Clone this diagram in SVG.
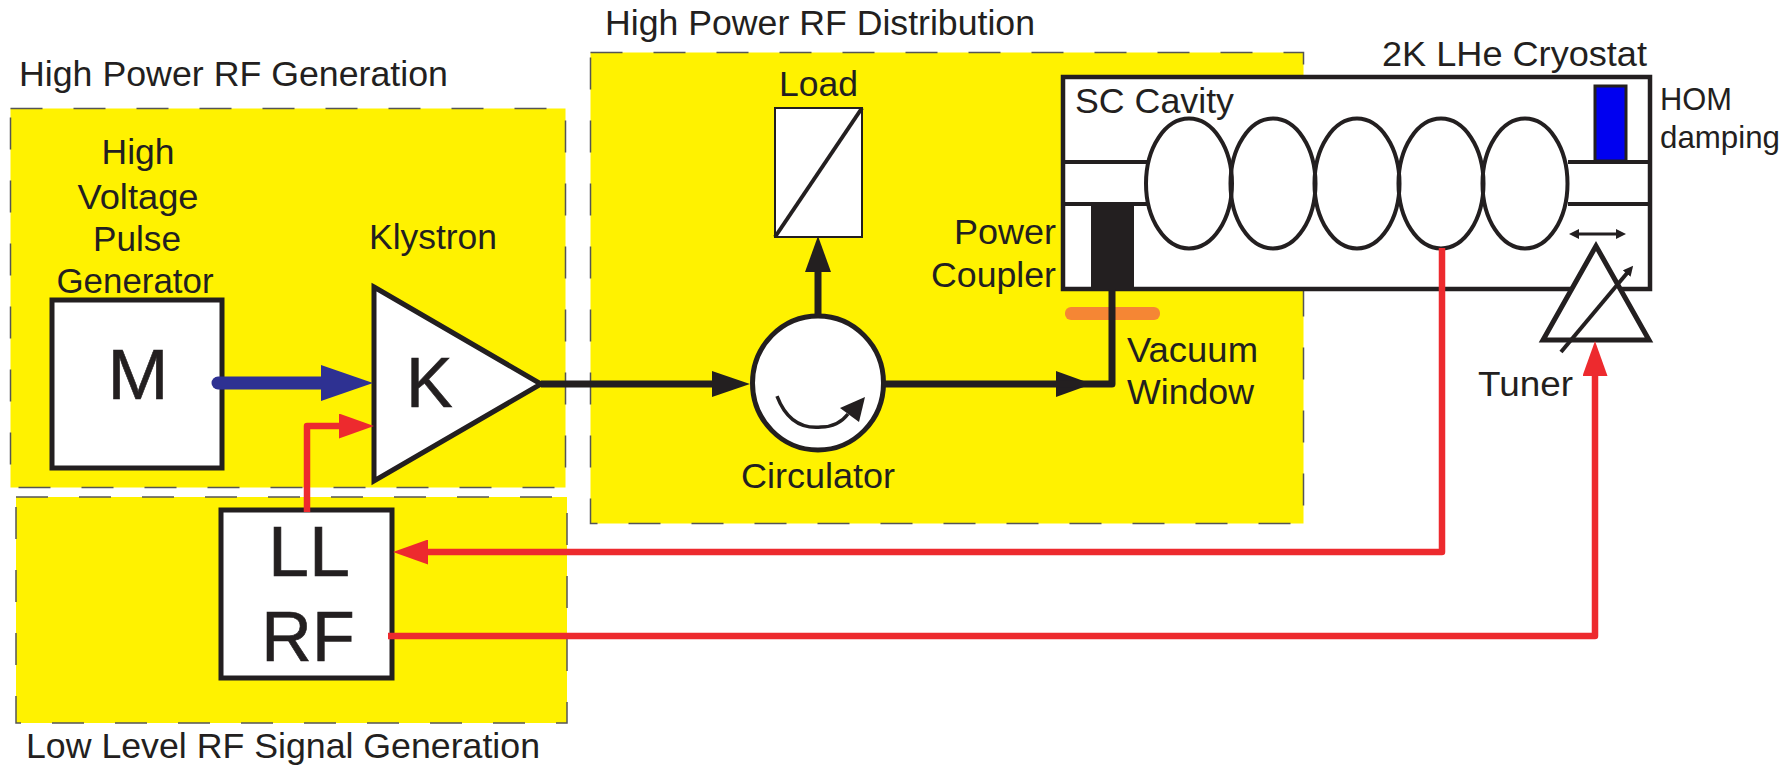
<svg xmlns="http://www.w3.org/2000/svg" width="1783" height="767" viewBox="0 0 1783 767">
<style>
text{font-family:"Liberation Sans",Arial,sans-serif;font-size:35px;fill:#231f20}
.big{font-size:70px;stroke:#231f20;stroke-width:.6}
.sm{font-size:32px}
.zone{fill:#fff200;stroke:#555;stroke-width:1.5;stroke-dasharray:32 31}
.box{fill:#fff;stroke:#231f20;stroke-width:5}
.thin{fill:#fff;stroke:#231f20;stroke-width:2}
.ln{fill:none;stroke:#231f20;stroke-width:4}
.k{fill:none;stroke:#231f20;stroke-width:7;stroke-linejoin:round}
.r{fill:none;stroke:#ed2a2e;stroke-width:6.5;stroke-linejoin:round}
</style>
<defs>
<marker id="hk" markerUnits="userSpaceOnUse" viewBox="0 0 38 26" refX="0" refY="13" markerWidth="38" markerHeight="26" orient="auto"><path d="M0 0L38 13L0 26Z" fill="#231f20"/></marker>
<marker id="hk2" markerUnits="userSpaceOnUse" viewBox="0 0 36 26" refX="0" refY="13" markerWidth="36" markerHeight="26" orient="auto"><path d="M0 0L36 13L0 26Z" fill="#231f20"/></marker>
<marker id="hr" markerUnits="userSpaceOnUse" viewBox="0 0 35 25" refX="0" refY="12.5" markerWidth="35" markerHeight="25" orient="auto"><path d="M0 0L35 12.5L0 25Z" fill="#ed2a2e"/></marker>
<marker id="hb" markerUnits="userSpaceOnUse" viewBox="0 0 52 36" refX="0" refY="18" markerWidth="52" markerHeight="36" orient="auto"><path d="M0 0L52 18L0 36Z" fill="#2e3192"/></marker>
<marker id="hs" markerUnits="userSpaceOnUse" viewBox="0 0 10 10" refX="2" refY="5" markerWidth="10" markerHeight="10" orient="auto-start-reverse"><path d="M0 0L10 5L0 10Z" fill="#231f20"/></marker>
</defs>

<g id="zone-generation"><rect class="zone" x="10.500" y="108.500" width="555" height="379"/><text x="19" y="86" textLength="429" lengthAdjust="spacingAndGlyphs">High Power RF Generation</text></g>
<g id="zone-llrf"><rect class="zone" x="16" y="497" width="551" height="226"/><text x="26" y="758" textLength="514" lengthAdjust="spacingAndGlyphs">Low Level RF Signal Generation</text></g>
<g id="zone-distribution"><rect class="zone" x="590.500" y="52.500" width="713" height="471"/><text x="605" y="35" textLength="430" lengthAdjust="spacingAndGlyphs">High Power RF Distribution</text></g>

<g id="cryostat">
<rect class="box" style="stroke-width:4.500" x="1063" y="77" width="587" height="212"/>
<text x="1382" y="66" textLength="265" lengthAdjust="spacingAndGlyphs">2K LHe Cryostat</text>
</g>
<g id="cavity">
<text x="1075" y="113" textLength="159" lengthAdjust="spacingAndGlyphs">SC Cavity</text>
<path class="ln" d="M1063 162H1147M1063 204H1147M1568 162H1650V204H1568"/>
<ellipse class="ln" cx="1189" cy="183.500" rx="43" ry="65"/>
<ellipse class="ln" cx="1273" cy="183.500" rx="42.500" ry="65"/>
<ellipse class="ln" cx="1357" cy="183.500" rx="42.500" ry="65"/>
<ellipse class="ln" cx="1441" cy="183.500" rx="42.500" ry="65"/>
<ellipse class="ln" cx="1525" cy="183.500" rx="42.500" ry="65"/>
</g>
<g id="hom-damping">
<rect x="1595" y="86" width="31" height="75" fill="#0000f0" stroke="#231f20" stroke-width="3"/>
<text class="sm" x="1660" y="110" textLength="72" lengthAdjust="spacingAndGlyphs">HOM</text>
<text class="sm" x="1660" y="148" textLength="120" lengthAdjust="spacingAndGlyphs">damping</text>
</g>
<g id="power-coupler">
<rect x="1091" y="204" width="43" height="85" fill="#231f20"/>
<text x="1056" y="244" text-anchor="end" textLength="102" lengthAdjust="spacingAndGlyphs">Power</text>
<text x="1056" y="287" text-anchor="end" textLength="125" lengthAdjust="spacingAndGlyphs">Coupler</text>
</g>
<g id="vacuum-window">
<rect x="1065" y="307" width="95" height="13" rx="6" fill="#f58634"/>
<text x="1127" y="362" textLength="131" lengthAdjust="spacingAndGlyphs">Vacuum</text>
<text x="1127" y="404" textLength="127" lengthAdjust="spacingAndGlyphs">Window</text>
</g>

<g id="hv-generator">
<rect class="box" x="52" y="300" width="170" height="168"/>
<text x="138" y="164" text-anchor="middle" textLength="73" lengthAdjust="spacingAndGlyphs">High</text>
<text x="138" y="209" text-anchor="middle" textLength="121" lengthAdjust="spacingAndGlyphs">Voltage</text>
<text x="137" y="251" text-anchor="middle" textLength="88" lengthAdjust="spacingAndGlyphs">Pulse</text>
<text x="135" y="293" text-anchor="middle" textLength="157" lengthAdjust="spacingAndGlyphs">Generator</text>
<text class="big" x="138" y="399" text-anchor="middle" textLength="61" lengthAdjust="spacingAndGlyphs">M</text>
</g>
<g id="klystron">
<path class="box" d="M374 287L541 384L374 481Z"/>
<text x="369" y="249" textLength="128" lengthAdjust="spacingAndGlyphs">Klystron</text>
<text class="big" x="406" y="407">K</text>
</g>
<g id="llrf">
<rect class="box" x="221" y="510" width="171" height="168"/>
<text class="big" x="309" y="576" text-anchor="middle" textLength="82" lengthAdjust="spacingAndGlyphs">LL</text>
<text class="big" x="308" y="661" text-anchor="middle">RF</text>
</g>
<g id="load">
<rect class="thin" x="775" y="108" width="87" height="129"/>
<path class="ln" d="M775 237L862 108"/>
<text x="779" y="96" textLength="79" lengthAdjust="spacingAndGlyphs">Load</text>
</g>
<g id="circulator">
<ellipse class="box" cx="818" cy="383" rx="65.500" ry="67"/>
<path d="M777 396Q790 430 821 427Q838 427 848 414" fill="none" stroke="#231f20" stroke-width="3.500"/>
<path d="M865 397L840 408L859 422Z" fill="#231f20"/>
<text x="741" y="488" textLength="154" lengthAdjust="spacingAndGlyphs">Circulator</text>
</g>
<g id="tuner">
<path d="M1596 246L1543 340H1649Z" fill="#fff" stroke="#231f20" stroke-width="5"/>
<path d="M1561 352L1628 272" fill="none" stroke="#231f20" stroke-width="4" marker-end="url(#hs)"/>
<path d="M1577 234H1618" fill="none" stroke="#231f20" stroke-width="3" marker-start="url(#hs)" marker-end="url(#hs)"/>
<text x="1478" y="396" textLength="95" lengthAdjust="spacingAndGlyphs">Tuner</text>
</g>

<g id="connectors">
<path d="M218 383H321" fill="none" stroke="#2e3192" stroke-width="13" stroke-linecap="round" marker-end="url(#hb)"/>
<path class="r" d="M307 512V426H339" marker-end="url(#hr)"/>
<path class="k" d="M541 384H712" marker-end="url(#hk)"/>
<path class="k" d="M818 317V272" marker-end="url(#hk2)"/>
<path class="k" d="M883 384H1056" marker-end="url(#hk2)"/>
<path class="k" d="M1056 384H1112V289"/>
<path class="r" d="M1442 248V552H428" marker-end="url(#hr)"/>
<path class="r" d="M388 636H1595V376" marker-end="url(#hr)"/>
</g>
</svg>
